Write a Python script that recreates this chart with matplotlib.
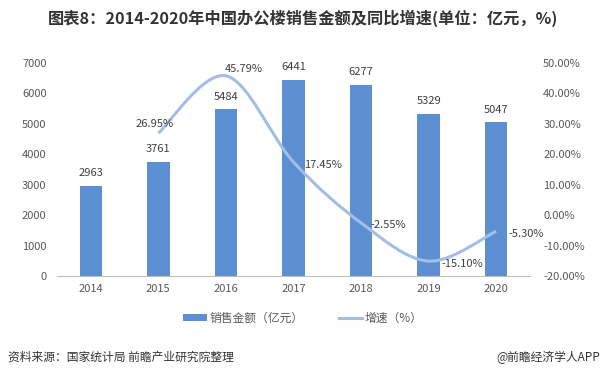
import matplotlib
matplotlib.use("Agg")
import matplotlib.pyplot as plt
from matplotlib.path import Path
from matplotlib.patches import PathPatch, Patch
from matplotlib.lines import Line2D
import numpy as np

plt.rcParams['font.family'] = ['Noto Sans CJK SC', 'DejaVu Sans']

years = ['2014', '2015', '2016', '2017', '2018', '2019', '2020']
sales = [2963, 3761, 5484, 6441, 6277, 5329, 5047]
growth_years = ['2015', '2016', '2017', '2018', '2019', '2020']
growth = [26.95, 45.79, 17.45, -2.55, -15.10, -5.30]

title = '图表8：2014-2020年中国办公楼销售金额及同比增速(单位：亿元，%)'
source = '资料来源：国家统计局 前瞻产业研究院整理'
brand = '@前瞻经济学人APP'

bar_color = '#5B8FD2'
line_color = '#A3BEE6'
text_color = '#595959'

fig = plt.figure(figsize=(6.06, 3.79), dpi=100)
ax = fig.add_axes([57/606, 1-276/379, 473/606, 213/379])
ax2 = ax.twinx()

x = np.arange(len(years))
ax.bar(x, sales, width=0.33, color=bar_color, zorder=2)
ax.set_xlim(-0.5, len(years) - 0.5)
ax.set_ylim(0, 7000)
ax.set_yticks(range(0, 7001, 1000))
ax.set_xticks(x)
ax.set_xticklabels(years)
for s in ['top', 'right', 'left']:
    ax.spines[s].set_visible(False)
    ax2.spines[s].set_visible(False)
ax2.spines['bottom'].set_visible(False)
ax.spines['bottom'].set_color('#BFBFBF')
ax.tick_params(axis='both', length=0, labelsize=8, colors=text_color)
ax.tick_params(axis='x', pad=6)
ax.tick_params(axis='y', pad=7.5)
for xi, v in zip(x, sales):
    ax.text(xi, v + 250, str(v), ha='center', va='bottom', fontsize=8, color='#404040')

ax2.set_ylim(-20, 50)
ax2.set_yticks(range(-20, 51, 10))
ax2.set_yticklabels([f'{t:.2f}%' for t in range(-20, 51, 10)])
ax2.tick_params(axis='y', length=0, labelsize=8, colors=text_color, pad=9.5)

# smooth curve (Catmull-Rom style Bezier through the data points)
gx = np.array([years.index(y) for y in growth_years], dtype=float)
gy = np.array(growth, dtype=float)
pts = np.column_stack([gx, gy])
verts = [tuple(pts[0])]
codes = [Path.MOVETO]
n = len(pts)
for i in range(n - 1):
    p0 = pts[i - 1] if i > 0 else pts[i]
    p1 = pts[i]
    p2 = pts[i + 1]
    p3 = pts[i + 2] if i + 2 < n else pts[i + 1]
    c1 = p1 + (p2 - p0) / 6.0
    c2 = p2 - (p3 - p1) / 6.0
    verts += [tuple(c1), tuple(c2), tuple(p2)]
    codes += [Path.CURVE4] * 3
ax2.add_patch(PathPatch(Path(verts, codes), facecolor='none', edgecolor=line_color, lw=2.2, zorder=3))

offsets = [(-0.06, 3.0), (0.27, 2.3), (0.44, -1.0), (0.40, -0.6), (0.50, -1.0), (0.44, -1.0)]
for xi, yi, (dx, dy) in zip(gx, gy, offsets):
    ax2.text(xi + dx, yi + dy, f'{yi:.2f}%', ha='center', va='center', fontsize=8, color='#404040', zorder=4)

handles = [Patch(facecolor=bar_color), Line2D([], [], color=line_color, lw=2.2)]
labels = ['销售金额（亿元）', '增速（%）']
fig.legend(handles, labels, loc='center', bbox_to_anchor=(0.5, 1-318/379), ncol=2, frameon=False,
           fontsize=8.5, handlelength=2.0, handleheight=0.6, columnspacing=3.0, labelcolor=text_color,
           handletextpad=0.2)

fig.text(0.5, 1-18/379, title, ha='center', va='center', fontsize=11.7, fontweight='bold', color='#333333')
fig.text(8/606, 1-357/379, source, ha='left', va='center', fontsize=8.5, color='#333333')
fig.text(600/606, 1-357/379, brand, ha='right', va='center', fontsize=8.5, color='#333333')

fig.savefig('out.png', dpi=100)
